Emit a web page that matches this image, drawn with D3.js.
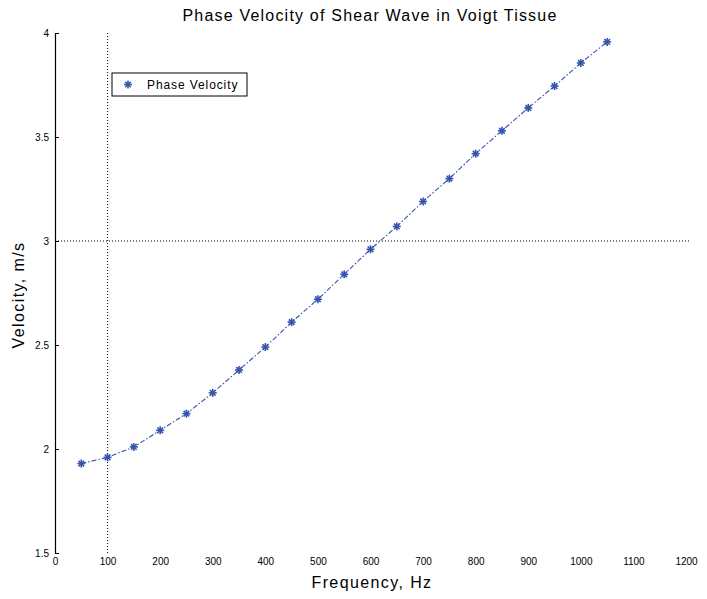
<!DOCTYPE html>
<html><head><meta charset="utf-8">
<script src="https://cdn.jsdelivr.net/npm/d3@7"></script>
<style>body{margin:0;background:#fff}svg{display:block}text{font-family:"Liberation Sans",Arial,sans-serif;fill:#000}</style>
</head><body><svg id="c" width="707" height="599"></svg>
<script>
const frequency = [50,100,150,200,250,300,350,400,450,500,550,600,650,700,750,800,850,900,950,1000,1050];
const velocity = [1.93,1.96,2.01,2.09,2.17,2.27,2.38,2.49,2.61,2.72,2.84,2.96,3.07,3.19,3.30,3.42,3.53,3.64,3.745,3.856,3.957];
const xTicks = [0,100,200,300,400,500,600,700,800,900,1000,1100,1200];
const yTicks = [1.5,2,2.5,3,3.5,4];
const refX = 100, refY = 3;
const title = "Phase Velocity of Shear Wave in Voigt Tissue";
const xLabel = "Frequency, Hz", yLabel = "Velocity, m/s", seriesName = "Phase Velocity";

const svg = d3.select("#c");
const color = "#3553ad";
const x = d3.scaleLinear().domain([0,1200]).range([55,686]);
const y = d3.scaleLinear().domain([1.5,4]).range([553,33]);

// reference lines
svg.append("line").attr("x1",x(refX)).attr("x2",x(refX)).attr("y1",y(4)).attr("y2",y(1.5))
  .attr("stroke","#000").attr("stroke-width",1).attr("stroke-dasharray","1,2");
svg.append("line").attr("x1",x(0)).attr("x2",x(1200)+4).attr("y1",y(refY)).attr("y2",y(refY))
  .attr("stroke","#000").attr("stroke-width",1).attr("stroke-dasharray","1,2");

// left axis
const ya = svg.append("g").attr("transform",`translate(${x(0)},0)`)
  .call(d3.axisLeft(y).tickValues(yTicks).tickFormat(d3.format("")).tickSize(-4).tickPadding(6));
ya.select(".domain").attr("stroke-width",1.2);
ya.selectAll("text").style("font-size","10px").attr("font-family","Liberation Sans,Arial,sans-serif");

// bottom tick labels
const xa = svg.append("g").attr("transform",`translate(0,${y(1.5)})`)
  .call(d3.axisBottom(x).tickValues(xTicks).tickFormat(d3.format("")).tickSize(0).tickPadding(5));
xa.select(".domain").remove();
xa.selectAll("text").style("font-size","10px").attr("font-family","Liberation Sans,Arial,sans-serif");

// line
svg.append("path").datum(frequency.map((f,i)=>[f,velocity[i]]))
  .attr("d",d3.line().x(d=>x(d[0])).y(d=>y(d[1])))
  .attr("fill","none").attr("stroke",color).attr("stroke-width",1.1).attr("stroke-dasharray","5,2,1.5,2");

function drawStar(g,cx,cy){
  const s=4;
  const p = g.append("g").attr("transform",`translate(${cx},${cy})`).attr("stroke",color).attr("stroke-width",1.6);
  p.append("line").attr("x1",-s).attr("x2",s).attr("y1",0).attr("y2",0);
  p.append("line").attr("x1",0).attr("x2",0).attr("y1",-s).attr("y2",s);
  p.append("line").attr("x1",-s*0.7).attr("x2",s*0.7).attr("y1",-s*0.7).attr("y2",s*0.7);
  p.append("line").attr("x1",-s*0.7).attr("x2",s*0.7).attr("y1",s*0.7).attr("y2",-s*0.7);
}
const mg = svg.append("g");
frequency.forEach((f,i)=>drawStar(mg,x(f),y(velocity[i])));

// title and labels
svg.append("text").attr("x",370).attr("y",21).attr("text-anchor","middle").style("font-size","16px").style("letter-spacing","1.2px").text(title);
svg.append("text").attr("x",372).attr("y",588).attr("text-anchor","middle").style("font-size","16px").style("letter-spacing","1.4px").text(xLabel);
svg.append("text").attr("transform","translate(24,295) rotate(-90)").attr("text-anchor","middle").style("font-size","16px").style("letter-spacing","1.4px").text(yLabel);

// legend
const lg = svg.append("g");
lg.append("rect").attr("x",112).attr("y",73).attr("width",135).attr("height",23).attr("fill","#fff").attr("stroke","#000").attr("stroke-width",1);
drawStar(lg,128,84.5);
lg.append("text").attr("x",147).attr("y",89).style("font-size","12px").style("letter-spacing","0.9px").text(seriesName);
</script></body></html>
